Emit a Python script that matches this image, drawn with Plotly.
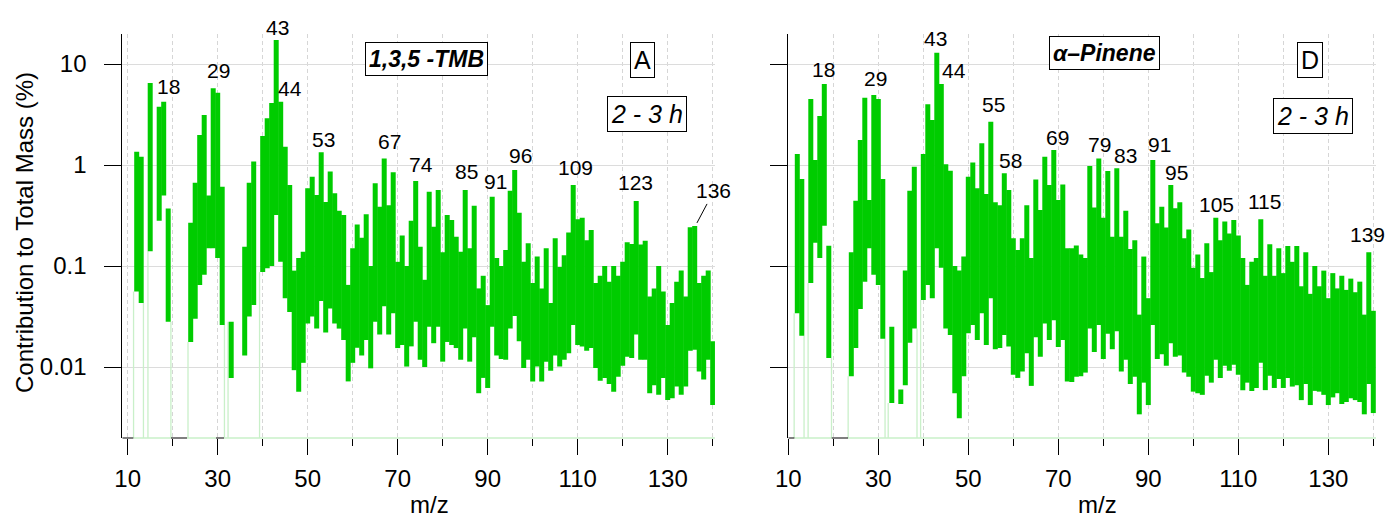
import math
import plotly.graph_objects as go

# ---------------- data ----------------
masses = list(range(11, 141))

tmb_hi = [None, 1.35, 1.21, None, 6.5, None, 3.78, 4.24, 0.37, None,
          None, None, None, 0.268, 0.668, 1.98, 3.12, 0.5, 5.74, 5.2,
          0.61, None, 0.028, None, None, 0.155, 0.668, 1.08, None, 1.94,
          2.9, 4.1, 17.3, 4.24, 1.52, 0.634, 0.09, 0.12, 0.138, 0.588,
          0.766, 0.505, 1.34, 0.43, 0.86, 0.525, 0.353, 0.32, 0.065, 0.15,
          0.258, 0.19, 0.325, 0.1, 0.66, 0.387, 1.16, 0.40, 0.846, 0.11,
          0.2, 0.1, 0.28, 0.694, 0.155, 0.073, 0.544, 0.245, 0.565, 0.137,
          0.32, 0.285, 0.195, 0.138, 0.565, 0.15, 0.395, 0.06, 0.08, 0.041,
          0.486, 0.12, 0.1, 0.144, 0.556, 0.892, 0.337, 0.11, 0.168, 0.068,
          0.124, 0.06, 0.15, 0.043, 0.188, 0.098, 0.128, 0.215, 0.634, 0.29,
          0.30, 0.18, 0.227, 0.068, 0.08, 0.1, 0.07, 0.1, 0.08, 0.11,
          0.172, 0.165, 0.44, 0.163, 0.178, 0.05, 0.06, 0.1, 0.056, 0.026,
          0.043, 0.07, 0.09, 0.05, 0.242, 0.249, 0.068, 0.08, 0.09, 0.018]

tmb_lo = [None, 0.056, 0.043, None, 0.14, None, 0.28, 0.5, 0.028, None,
          None, None, None, 0.0177, 0.030, 0.065, 0.082, 0.15, 0.15, 0.12,
          0.026, None, 0.0078, None, None, 0.013, 0.0316, 0.041, None, 0.087,
          0.095, 0.1, 0.32, 0.11, 0.048, 0.035, 0.0093, 0.0057, 0.011, 0.027,
          0.0316, 0.024, 0.045, 0.022, 0.038, 0.027, 0.024, 0.0185, 0.0072, 0.011,
          0.0155, 0.013, 0.0185, 0.0097, 0.028, 0.021, 0.040, 0.021, 0.034, 0.0154,
          0.0165, 0.0101, 0.016, 0.028, 0.0118, 0.01, 0.025, 0.0172, 0.025, 0.0113,
          0.0177, 0.0165, 0.0154, 0.0118, 0.024, 0.0113, 0.0197, 0.0055, 0.0078, 0.0062,
          0.025, 0.013, 0.012, 0.0118, 0.024, 0.032, 0.018, 0.0098, 0.0118, 0.0072,
          0.0101, 0.0072, 0.0113, 0.0092, 0.013, 0.0101, 0.0118, 0.0137, 0.026, 0.0165,
          0.016, 0.0145, 0.0154, 0.0098, 0.0073, 0.0078, 0.0068, 0.0057, 0.008, 0.0103,
          0.0126, 0.0123, 0.021, 0.0118, 0.0118, 0.0055, 0.0066, 0.0053, 0.0078, 0.0047,
          0.0049, 0.0064, 0.0053, 0.0064, 0.0145, 0.0148, 0.009, 0.0075, 0.0118, 0.0042]

pin_hi = [None, 1.285, 0.727, None, 4.5, 1.12, 3.06, 6.34, 0.159, None,
          None, None, None, 0.137, 0.443, 1.77, 4.64, 0.45, 4.93, 4.5,
          0.727, None, 0.025, None, 0.006, 0.09, 0.556, 0.96, None, 1.285,
          4.0, 2.79, 12.9, 6.34, 1.02, 0.878, 0.1, 0.09, 0.124, 0.766,
          1.06, 0.588, 1.64, 0.516, 2.68, 0.427, 0.40, 0.827, 0.565, 0.188,
          0.144, 0.188, 0.40, 0.12, 0.72, 0.358, 1.21, 0.634, 1.41, 0.45,
          0.64, 0.15, 0.15, 0.16, 0.13, 0.12, 0.98, 0.38, 1.16, 0.30,
          0.87, 0.195, 0.93, 0.195, 0.353, 0.147, 0.18, 0.033, 0.124, 0.048,
          1.12, 0.265, 0.387, 0.24, 0.634, 0.373, 0.427, 0.188, 0.23, 0.096,
          0.13, 0.076, 0.168, 0.087, 0.30, 0.18, 0.275, 0.21, 0.285, 0.20,
          0.12, 0.065, 0.11, 0.12, 0.29, 0.08, 0.164, 0.08, 0.15, 0.085,
          0.158, 0.11, 0.158, 0.063, 0.137, 0.053, 0.1, 0.063, 0.09, 0.048,
          0.085, 0.06, 0.08, 0.058, 0.075, 0.055, 0.07, 0.033, 0.137, 0.036]

pin_lo = [None, 0.034, 0.0204, None, 0.068, 0.17, 0.12, 0.25, 0.0123, None,
          None, None, None, 0.0081, 0.0154, 0.0376, 0.07, 0.15, 0.082, 0.065,
          0.019, None, 0.0044, None, 0.0043, 0.0066, 0.0174, 0.024, None, 0.046,
          0.065, 0.048, 0.15, 0.096, 0.024, 0.0207, 0.0055, 0.0031, 0.0081, 0.0216,
          0.026, 0.0185, 0.034, 0.0165, 0.048, 0.015, 0.0154, 0.0207, 0.016, 0.0084,
          0.0078, 0.009, 0.0137, 0.0065, 0.0197, 0.0126, 0.027, 0.0185, 0.029, 0.0158,
          0.0185, 0.0072, 0.0071, 0.008, 0.0081, 0.0088, 0.024, 0.0141, 0.026, 0.012,
          0.0213, 0.015, 0.0226, 0.009, 0.0118, 0.0068, 0.008, 0.0034, 0.007, 0.0042,
          0.026, 0.012, 0.0134, 0.0103, 0.0172, 0.0126, 0.013, 0.0088, 0.008, 0.0057,
          0.0055, 0.0053, 0.0082, 0.007, 0.0118, 0.0078, 0.0103, 0.0092, 0.0105, 0.0084,
          0.0059, 0.007, 0.0058, 0.0062, 0.011, 0.0059, 0.0082, 0.0062, 0.0076, 0.0062,
          0.0078, 0.0064, 0.0066, 0.0047, 0.0068, 0.0042, 0.0058, 0.0057, 0.0053, 0.0042,
          0.005, 0.0055, 0.0043, 0.0045, 0.0049, 0.0047, 0.0045, 0.0034, 0.0068, 0.0035]

# faint drops to (near) zero between masses: position, value they reach
tmb_drop_x = [11.3, 13.5, 14.5, 19.6, 23.4, 31.5, 32.3, 39.3]
tmb_drop_y = [0.056, 0.043, 0.14, 0.028, 0.0177, 0.026, 0.028, 0.087]
pin_drop_x = [11.3, 13.5, 14.4, 19.6, 23.3, 31.5, 32.2, 38.6, 39.4]
pin_drop_y = [0.034, 0.0204, 0.068, 0.0123, 0.0081, 0.019, 0.0044, 0.024, 0.046]
# stretches where the trace lies at zero (along the bottom)
tmb_zero = [(11.3, 19.6), (23.2, 29.6), (31.4, 140.5)]
pin_zero = [(11.4, 19.6), (23.3, 140.6)]

# peak labels: text, x (m/z), y (value)
tmb_lab_t = ["18", "29", "43", "44", "53", "67", "74", "85", "91", "96", "109", "123"]
tmb_lab_x = [18.96, 30.07, 43.18, 46.07, 53.4, 68.07, 75.11, 85.33, 91.84, 97.33, 109.62, 122.8]
tmb_lab_y = [5.92, 8.53, 23.2, 5.78, 1.77, 1.69, 1.02, 0.853, 0.68, 1.23, 0.955, 0.664]
pin_lab_t = ["18", "29", "43", "44", "55", "58", "69", "79", "83", "91", "95", "105", "115", "139"]
pin_lab_x = [17.78, 29.27, 42.82, 46.82, 55.56, 59.27, 69.87, 79.11, 84.98, 92.44, 96.31, 105.2, 115.93, 138.82]
pin_lab_y = [8.91, 7.26, 18.07, 8.53, 3.93, 1.096, 1.89, 1.61, 1.23, 1.61, 0.834, 0.411, 0.431, 0.203]

GREEN = "#00cc00"
FAINT = "#c9f0c9"
FONT = "Liberation Sans, Arial, sans-serif"
W, H = 1385, 520
TOP, BOT = 34, 438
YR = [-2.703, 1.297]
PX_DEC = (BOT - TOP) / (YR[1] - YR[0])


def sticks(ms, lo, hi):
    xs, ys = [], []
    for m, a, b in zip(ms, lo, hi):
        if a is None or b is None:
            continue
        xs += [m, m, None]
        ys += [a, b, None]
    return xs, ys


def drops(dx, dy):
    xs, ys = [], []
    for a, b in zip(dx, dy):
        xs += [a, a, None]
        ys += [10 ** YR[0] * 0.8, b, None]
    return xs, ys


fig = go.Figure()
for (lo, hi, dx, dy, xa, ya) in [(tmb_lo, tmb_hi, tmb_drop_x, tmb_drop_y, "x", "y"),
                                 (pin_lo, pin_hi, pin_drop_x, pin_drop_y, "x2", "y2")]:
    fx, fy = drops(dx, dy)
    fig.add_trace(go.Scatter(x=fx, y=fy, mode="lines", xaxis=xa, yaxis=ya,
                             line=dict(color=FAINT, width=1.3), hoverinfo="skip",
                             showlegend=False))
    sx, sy = sticks(masses, lo, hi)
    fig.add_trace(go.Scatter(x=sx, y=sy, mode="lines", xaxis=xa, yaxis=ya,
                             line=dict(color=GREEN, width=5), showlegend=False))

px = lambda x: x / W
py = lambda y: (BOT - y) / (BOT - TOP)

xcommon = dict(showline=False, ticks="outside", ticklen=16, tickcolor="black", tickwidth=1,
               dtick=20, tick0=10, showgrid=True, gridcolor="#d6d6d6", griddash="4px,3px",
               gridwidth=1, zeroline=False, tickfont=dict(family=FONT, size=24, color="black"),
               ticklabelstandoff=3, automargin=False,
               minor=dict(dtick=10, tick0=10, ticks="outside", ticklen=7, tickcolor="black",
                          showgrid=True, gridcolor="#d6d6d6", griddash="4px,3px"))
ycommon = dict(type="log", range=YR, showline=True, linecolor="black", linewidth=1,
               ticks="outside", ticklen=17, tickcolor="black", tickwidth=1,
               tickmode="array", tickvals=[0.01, 0.1, 1, 10], ticktext=["0.01", "0.1", "1", "10"],
               showgrid=True, gridcolor="#dcdcdc", gridwidth=1, zeroline=False,
               tickfont=dict(family=FONT, size=24, color="black"), ticklabelstandoff=13,
               automargin=False)

fig.update_layout(
    width=W, height=H, margin=dict(l=0, r=0, t=TOP, b=H - BOT, autoexpand=False),
    paper_bgcolor="white", plot_bgcolor="white", showlegend=False,
    font=dict(family=FONT, color="black"),
    xaxis=dict(xcommon, domain=[px(122.3), px(714.95)], range=[8.8, 140.5], anchor="y"),
    yaxis=dict(ycommon, domain=[0, 1], anchor="x"),
    xaxis2=dict(xcommon, domain=[px(788.3), px(1376.0)], range=[10, 140.6], anchor="y2"),
    yaxis2=dict(ycommon, domain=[0, 1], anchor="x2", showticklabels=False),
)

shapes = []
for xr, zero in [("x", tmb_zero), ("x2", pin_zero)]:
    yr = "y domain" if xr == "x" else "y2 domain"
    rng = [8.8, 140.5] if xr == "x" else [10, 140.6]
    edges = [rng[0]] + [v for seg in zero for v in seg] + [rng[1]]
    for i in range(0, len(edges) - 1, 2):
        if edges[i + 1] > edges[i]:
            shapes.append(dict(type="line", xref=xr, yref=yr, x0=edges[i], x1=edges[i + 1],
                               y0=0, y1=0, line=dict(color="black", width=1.2)))
    for a, b in zero:
        shapes.append(dict(type="line", xref=xr, yref=yr, x0=a, x1=b, y0=0, y1=0,
                           line=dict(color=FAINT, width=1.5)))
fig.update_layout(shapes=shapes)


def label(t, x, y, xr, yr):
    ly = math.log10(y)
    shift = 0
    lim = YR[1] - 0.02
    if ly > lim:
        shift = (ly - lim) * PX_DEC
        ly = lim
    return dict(text=t, x=x, y=ly, xref=xr, yref=yr, showarrow=False, yshift=shift,
                xanchor="center", yanchor="middle",
                font=dict(family=FONT, size=21, color="black"))


ann = []
for t, x, y in zip(tmb_lab_t, tmb_lab_x, tmb_lab_y):
    ann.append(label(t, x, y, "x", "y"))
for t, x, y in zip(pin_lab_t, pin_lab_x, pin_lab_y):
    ann.append(label(t, x, y, "x2", "y2"))
# 136 label with leader line
ann.append(dict(text="136", x=136.5, y=math.log10(0.267), xref="x", yref="y", showarrow=True,
                arrowhead=0, arrowwidth=1, arrowcolor="black", ax=17, ay=-32, standoff=0,
                font=dict(family=FONT, size=21, color="black")))

box = dict(showarrow=False, xref="paper", yref="paper", bordercolor="black", borderwidth=1,
           borderpad=3, bgcolor="white", xanchor="center", yanchor="middle")
plain = dict(showarrow=False, xref="paper", yref="paper", xanchor="center", yanchor="middle")
ann += [
    dict(box, text="<b><i>1,3,5 -TMB</i></b>", x=px(426), y=py(59), font=dict(family=FONT, size=23, color="black")),
    dict(box, text="A", x=px(642), y=py(60.5), font=dict(family=FONT, size=25, color="black")),
    dict(box, text="<i>2 - 3 h</i>", x=px(647), y=py(114.5), font=dict(family=FONT, size=25, color="black")),
    dict(box, text="<b><i>α–Pinene</i></b>", x=px(1104), y=py(53), font=dict(family=FONT, size=23, color="black")),
    dict(box, text="D", x=px(1309.5), y=py(60.5), font=dict(family=FONT, size=25, color="black")),
    dict(box, text="<i>2 - 3 h</i>", x=px(1312.5), y=py(116), font=dict(family=FONT, size=25, color="black")),
    dict(plain, text="Contribution to Total Mass (%)", x=px(24), y=py(233), textangle=-90,
         font=dict(family=FONT, size=24, color="black")),
    dict(plain, text="m/z", x=px(429), y=py(505), font=dict(family=FONT, size=24, color="black")),
    dict(plain, text="m/z", x=px(1097), y=py(505), font=dict(family=FONT, size=24, color="black")),
]
fig.update_layout(annotations=ann)

fig.write_html("out.html")
